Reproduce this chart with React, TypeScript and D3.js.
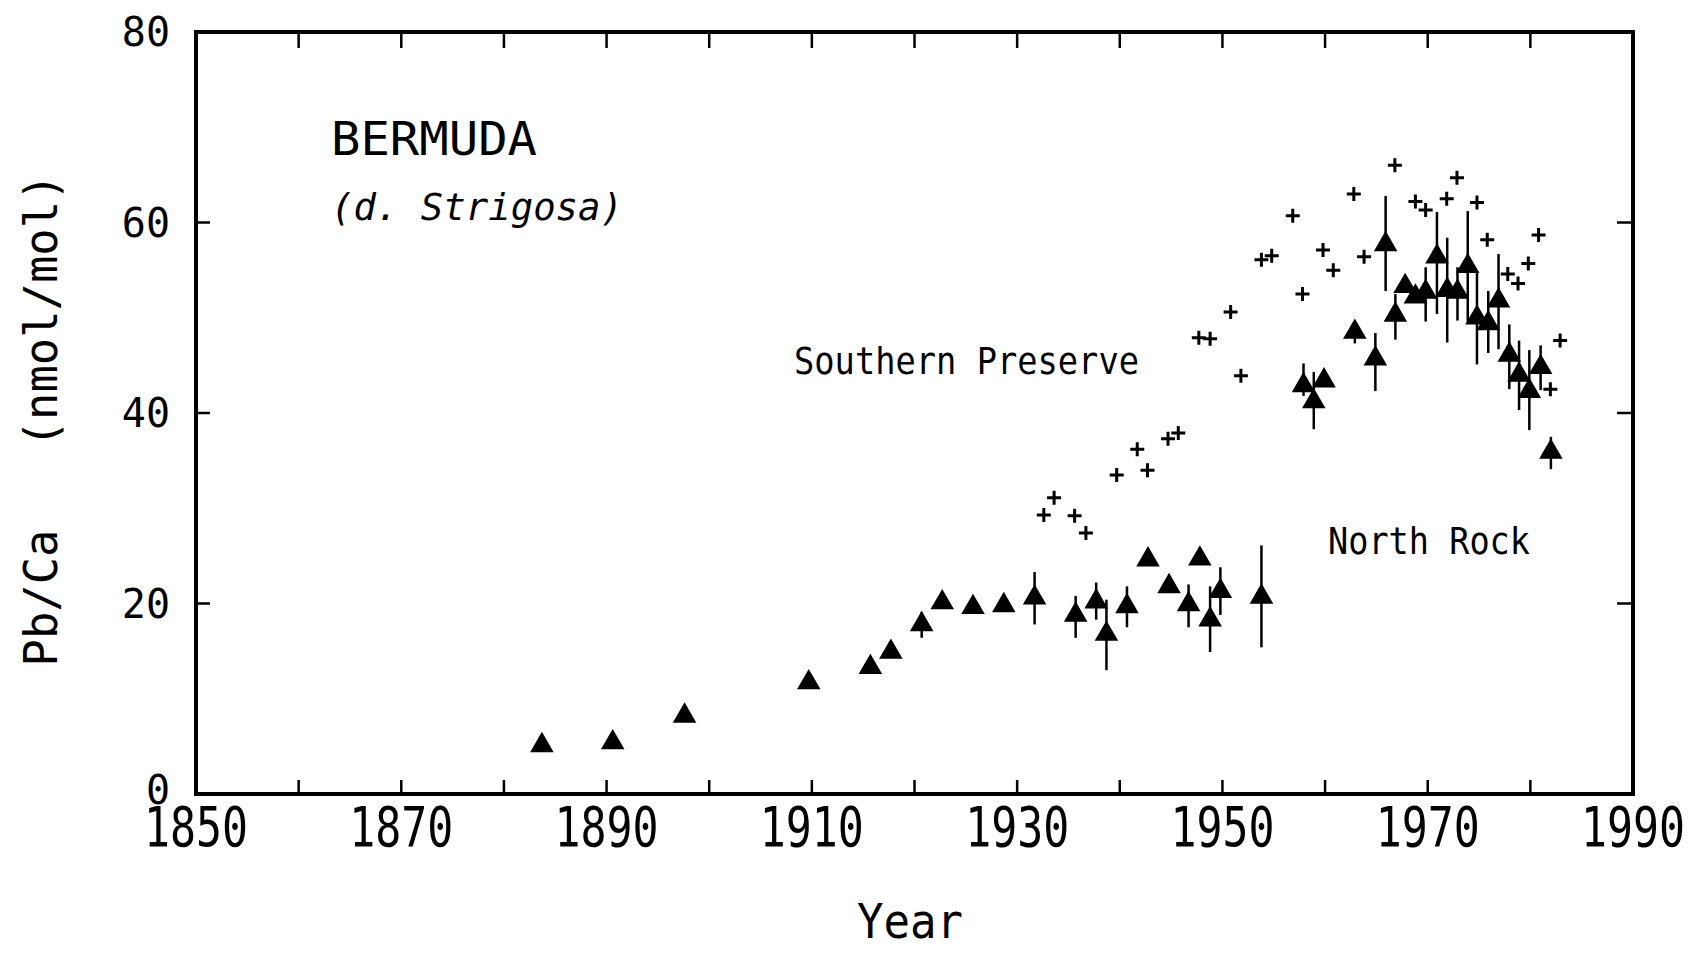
import React, { useEffect, useRef } from 'react'
import * as d3 from 'd3'

// Southern Preserve (crosses)
const crossYears = [1932.6, 1933.6, 1935.6, 1936.7, 1939.7, 1941.7, 1942.7, 1944.7, 1945.7, 1947.7, 1948.8, 1950.8, 1951.8, 1953.8, 1954.8, 1956.85, 1957.8, 1959.8, 1960.8, 1962.8, 1963.8, 1966.8, 1968.8, 1969.8, 1971.85, 1972.85, 1974.8, 1975.8, 1977.8, 1978.8, 1979.8, 1980.8, 1981.95, 1982.9]
const crossValues = [29.3, 31.1, 29.2, 27.4, 33.5, 36.2, 34.0, 37.3, 37.9, 47.9, 47.8, 50.6, 43.9, 56.1, 56.5, 60.7, 52.5, 57.1, 55.0, 63.0, 56.4, 66.0, 62.2, 61.3, 62.5, 64.7, 62.1, 58.2, 54.6, 53.6, 55.7, 58.7, 42.5, 47.6]

// North Rock (triangles) with error bars (null = none drawn)
const triYears = [1883.7, 1890.6, 1897.6, 1909.7, 1915.7, 1917.7, 1920.7, 1922.7, 1925.7, 1928.7, 1931.7, 1935.7, 1937.7, 1938.7, 1940.7, 1942.75, 1944.8, 1946.7, 1947.8, 1948.8, 1949.8, 1953.8, 1957.9, 1958.9, 1959.9, 1962.9, 1964.9, 1965.9, 1966.85, 1967.8, 1968.8, 1969.8, 1970.9, 1971.9, 1972.9, 1973.9, 1974.8, 1975.9, 1976.9, 1977.95, 1978.9, 1979.9, 1981.0, 1982.0]
const triValues = [5.1, 5.4, 8.2, 11.7, 13.3, 14.9, 17.8, 20.1, 19.6, 19.8, 20.6, 18.8, 20.2, 16.8, 19.7, 24.6, 21.8, 19.9, 24.7, 18.3, 21.3, 20.7, 42.9, 41.2, 43.4, 48.5, 45.7, 57.7, 50.3, 53.3, 52.2, 52.7, 56.4, 52.9, 52.7, 55.4, 50.0, 49.4, 51.8, 46.1, 44.0, 42.3, 44.8, 35.9]
const triLow = [null, null, null, null, null, null, 16.4, null, null, null, 17.8, 16.4, 18.3, 13.0, 17.5, null, null, 17.5, null, 14.9, 18.8, 15.4, 41.8, 38.3, null, 47.3, 42.3, 52.8, 47.7, null, null, 49.6, 50.4, 47.4, 49.7, 49.6, 45.1, 46.3, 46.7, 42.5, 40.3, 38.2, 42.4, 34.1]
const triHigh = [null, null, null, null, null, null, 19.1, null, null, null, 23.3, 20.8, 22.2, 20.4, 21.8, null, null, 22.0, null, 21.8, 23.8, 26.1, 45.2, 44.3, null, 49.5, 48.4, 62.8, 52.5, null, null, 55.3, 61.1, 58.4, 55.3, 61.2, 54.8, 52.8, 56.7, 49.3, 47.6, 46.6, 47.1, 37.5]

const xTickLabels = [1850, 1870, 1890, 1910, 1930, 1950, 1970, 1990]
const xMinorTicks = [1860, 1870, 1880, 1890, 1900, 1910, 1920, 1930, 1940, 1950, 1960, 1970, 1980]
const yTickLabels = [0, 20, 40, 60, 80]
const yInnerTicks = [20, 40, 60]

const W = 1698
const H = 953
const FONT = '"DejaVu Sans Mono", monospace'

const App = () => {
    const svgRef = useRef(null)

    useEffect(() => {
        const svg = d3.select(svgRef.current)
        svg.selectAll('*').remove()

        const left = 196, right = 1633, top = 32, bottom = 794
        const x = d3.scaleLinear().domain([1850, 1990]).range([left, right])
        const y = d3.scaleLinear().domain([0, 80]).range([bottom, top])
        const tick = 14

        const g = svg.append('g')

        // frame
        g.append('rect')
            .attr('x', left).attr('y', top)
            .attr('width', right - left).attr('height', bottom - top)
            .attr('fill', 'none').attr('stroke', '#000').attr('stroke-width', 4)

        // inward ticks, top and bottom
        xMinorTicks.forEach(t => {
            g.append('line').attr('x1', x(t)).attr('x2', x(t))
                .attr('y1', bottom).attr('y2', bottom - tick)
                .attr('stroke', '#000').attr('stroke-width', 2.5)
            g.append('line').attr('x1', x(t)).attr('x2', x(t))
                .attr('y1', top).attr('y2', top + tick + 2)
                .attr('stroke', '#000').attr('stroke-width', 2.5)
        })
        yInnerTicks.forEach(t => {
            g.append('line').attr('x1', left).attr('x2', left + tick)
                .attr('y1', y(t)).attr('y2', y(t))
                .attr('stroke', '#000').attr('stroke-width', 2.5)
            g.append('line').attr('x1', right).attr('x2', right - tick - 2)
                .attr('y1', y(t)).attr('y2', y(t))
                .attr('stroke', '#000').attr('stroke-width', 2.5)
        })

        // tick labels (tall, condensed)
        g.selectAll('.xl').data(xTickLabels).enter().append('text')
            .attr('transform', d => `translate(${x(d)},846) scale(1,1.1)`)
            .attr('text-anchor', 'middle')
            .attr('font-family', FONT).attr('font-size', 50)
            .attr('textLength', 104).attr('lengthAdjust', 'spacingAndGlyphs')
            .text(d => d)

        g.selectAll('.yl').data(yTickLabels).enter().append('text')
            .attr('x', 170).attr('y', d => y(d) + 14 - (d === 0 ? 4 : 0))
            .attr('text-anchor', 'end')
            .attr('font-family', FONT).attr('font-size', 40)
            .text(d => d)

        // axis titles
        g.append('text')
            .attr('x', 910).attr('y', 938)
            .attr('text-anchor', 'middle')
            .attr('font-family', FONT).attr('font-size', 48)
            .attr('textLength', 106).attr('lengthAdjust', 'spacingAndGlyphs')
            .text('Year')

        g.append('text')
            .attr('transform', 'translate(57,420) rotate(-90)')
            .attr('text-anchor', 'middle')
            .attr('font-family', FONT).attr('font-size', 46)
            .attr('textLength', 493).attr('lengthAdjust', 'spacingAndGlyphs')
            .style('white-space', 'pre')
            .text('Pb/Ca   (nmol/mol)')

        // annotations
        g.append('text').attr('x', 331).attr('y', 155)
            .attr('font-family', FONT).attr('font-size', 47)
            .attr('textLength', 206).attr('lengthAdjust', 'spacingAndGlyphs')
            .text('BERMUDA')
        g.append('text').attr('x', 331).attr('y', 220)
            .attr('font-family', FONT).attr('font-size', 38).attr('font-style', 'italic')
            .attr('textLength', 292).attr('lengthAdjust', 'spacingAndGlyphs')
            .style('white-space', 'pre')
            .text('(d. Strigosa)')
        g.append('text').attr('x', 794).attr('y', 374)
            .attr('font-family', FONT).attr('font-size', 38)
            .attr('textLength', 345).attr('lengthAdjust', 'spacingAndGlyphs')
            .text('Southern Preserve')
        g.append('text').attr('x', 1328).attr('y', 554)
            .attr('font-family', FONT).attr('font-size', 38)
            .attr('textLength', 202).attr('lengthAdjust', 'spacingAndGlyphs')
            .text('North Rock')

        // crosses
        const crosses = crossYears.map((yr, i) => ({ yr, v: crossValues[i] }))
        g.selectAll('.cross').data(crosses).enter().append('path')
            .attr('d', d => {
                const cx = x(d.yr), cy = y(d.v), a = 7
                return `M${cx - a},${cy}H${cx + a}M${cx},${cy - a}V${cy + a}`
            })
            .attr('stroke', '#000').attr('stroke-width', 3).attr('fill', 'none')

        // triangles with error bars
        const tris = triYears.map((yr, i) => ({ yr, v: triValues[i], lo: triLow[i], hi: triHigh[i] }))
        g.selectAll('.err').data(tris.filter(d => d.lo !== null)).enter().append('line')
            .attr('x1', d => x(d.yr)).attr('x2', d => x(d.yr))
            .attr('y1', d => y(d.lo)).attr('y2', d => y(d.hi))
            .attr('stroke', '#000').attr('stroke-width', 2.5)

        const triPath = d3.symbol().type(d3.symbolTriangle).size(240)
        g.selectAll('.tri').data(tris).enter().append('path')
            .attr('transform', d => `translate(${x(d.yr)},${y(d.v)})`)
            .attr('d', triPath())
            .attr('fill', '#000')
    }, [])

    return (
        <div style={{ position: 'absolute', left: 0, top: 0 }}>
            <svg ref={svgRef} width={W} height={H} style={{ display: 'block', background: '#fff' }}></svg>
        </div>
    )
}

export default App
